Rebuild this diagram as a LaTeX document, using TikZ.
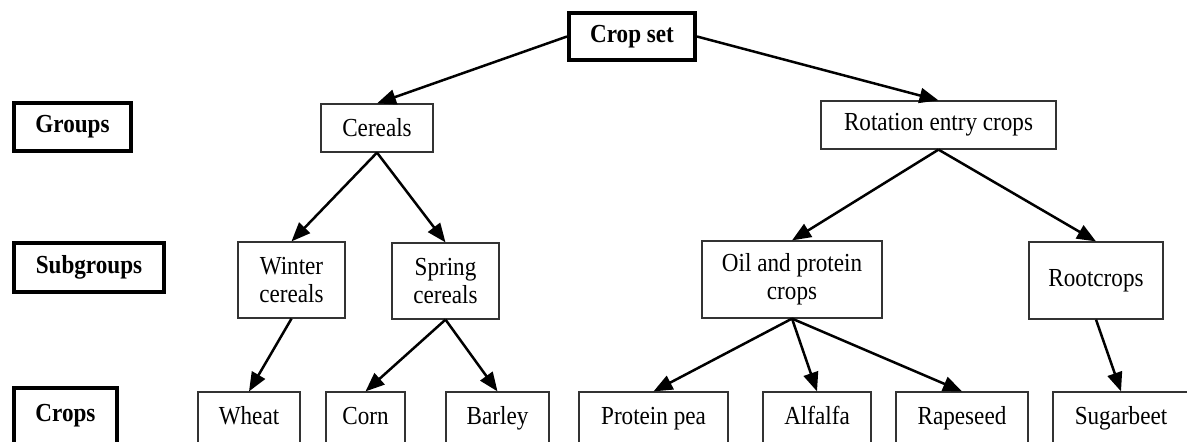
\documentclass[tikz,border=0pt]{standalone}
\usepackage{fontspec}
\setmainfont{Liberation Serif}[FakeStretch=0.89]
\usetikzlibrary{arrows.meta}

\begin{document}
\begin{tikzpicture}[x=0.5pt, y=-0.5pt,
		box/.style={draw=black!80, line width=0.6pt, inner sep=0pt, align=center, font=\fontsize{13}{14}\selectfont},
		cropbox/.style={box, text height=9pt, text depth=3pt, minimum height=26pt},
		level/.style={draw=black, line width=2pt, inner sep=0pt, font=\fontsize{13}{14}\selectfont\bfseries},
		arr/.style={line width=1.25pt, -{Triangle[length=9.5pt,width=7.5pt]}}]
		\useasboundingbox (0,0) rectangle (1187,441);
		%\draw[gray,step=50] (0,0) grid (1187,441);
		% level labels
		\node[level, minimum width=63pt, minimum height=23.5pt] (cropset) at (632,36.5) {Crop set};
		\node[level, minimum width=58.5pt, minimum height=24pt] (groups) at (72.5,127) {Groups};
		\node[level, minimum width=75pt, minimum height=24.5pt] (subgroups) at (89,267.5) {Subgroups};
		\node[level, minimum width=51.5pt, minimum height=28pt] (crops) at (65.5,416) {Crops};
		% groups
		\node[box, minimum width=56pt, minimum height=24pt] (cereals) at (377,128) {Cereals};
		\node[box, minimum width=117.5pt, minimum height=24pt] (rotation) at (938.5,125) {Rotation entry crops};
		% subgroups
		\node[box, minimum width=53.5pt, minimum height=38pt] (winter) at (291.5,280) {Winter\\cereals};
		\node[box, minimum width=53.5pt, minimum height=38pt] (spring) at (445.5,281) {Spring\\cereals};
		\node[box, minimum width=90pt, minimum height=38.5pt] (oil) at (792,279.5) {Oil and protein\\crops};
		\node[box, minimum width=67pt, minimum height=38.5pt] (root) at (1096,280.5) {Rootcrops};
		% crops
		\node[cropbox, minimum width=51pt] (wheat) at (249,418) {Wheat};
		\node[cropbox, minimum width=39.5pt] (corn) at (365.5,418) {Corn};
		\node[cropbox, minimum width=51.5pt] (barley) at (497.5,418) {Barley};
		\node[cropbox, minimum width=74.5pt] (pea) at (653.5,418) {Protein pea};
		\node[cropbox, minimum width=54pt] (alfalfa) at (817,418) {Alfalfa};
		\node[cropbox, minimum width=66pt] (rapeseed) at (962,418) {Rapeseed};
		\node[cropbox, minimum width=68pt] (sugar) at (1121,418) {Sugarbeet};
		% arrows
		\draw[arr] (cropset.west) -- (cereals.north);
		\draw[arr] (cropset.east) -- (rotation.north);
		\draw[arr] (cereals.south) -- (winter.north);
		\draw[arr] (cereals.south) -- (spring.north);
		\draw[arr] (rotation.south) -- (oil.north);
		\draw[arr] (rotation.south) -- (root.north);
		\draw[arr] (winter.south) -- (wheat.north);
		\draw[arr] (spring.south) -- (corn.north);
		\draw[arr] (spring.south) -- (barley.north);
		\draw[arr] (oil.south) -- (pea.north);
		\draw[arr] (oil.south) -- (alfalfa.north);
		\draw[arr] (oil.south) -- (rapeseed.north);
		\draw[arr] (root.south) -- (sugar.north);
	\end{tikzpicture}
\end{document}
